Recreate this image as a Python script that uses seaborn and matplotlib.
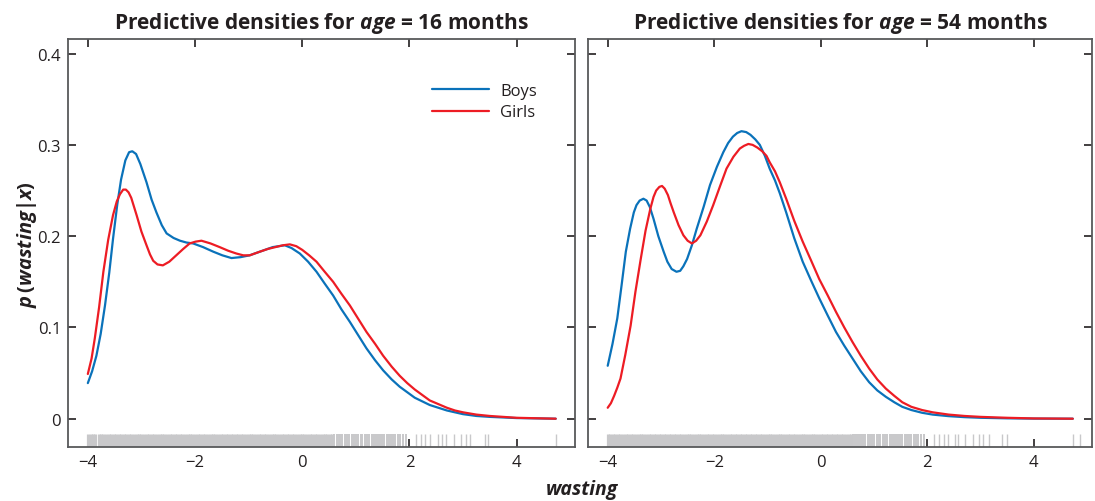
import numpy as np
import matplotlib
matplotlib.use("Agg")
import matplotlib.pyplot as plt
import pandas as pd
import seaborn as sns

# densities: age = 16 months
x16_boys = [-4.0, -3.92, -3.84, -3.76, -3.68, -3.60, -3.53, -3.45, -3.38, -3.30, -3.23, -3.17,
            -3.10, -3.02, -2.905, -2.81, -2.72, -2.62, -2.53, -2.40, -2.28, -2.16, -2.035,
            -1.85, -1.66, -1.49, -1.32, -1.15, -0.98, -0.79, -0.55, -0.44, -0.325, -0.20,
            -0.045, 0.11, 0.267, 0.42, 0.577, 0.73, 0.89, 1.05, 1.2, 1.36, 1.51, 1.67, 1.82,
            1.96, 2.1, 2.24, 2.38, 2.54, 2.7, 2.85, 3.0, 3.25, 3.5, 4.0, 4.73]
y16_boys = [0.039, 0.052, 0.069, 0.093, 0.124, 0.160, 0.197, 0.235, 0.262, 0.283, 0.292, 0.293,
            0.290, 0.279, 0.259, 0.240, 0.226, 0.212, 0.203, 0.198, 0.195, 0.193, 0.192,
            0.188, 0.183, 0.179, 0.176, 0.177, 0.179, 0.183, 0.188, 0.189, 0.190, 0.187,
            0.181, 0.172, 0.161, 0.148, 0.135, 0.120, 0.106, 0.091, 0.077, 0.064, 0.053, 0.043, 0.035,
            0.029, 0.023, 0.019, 0.015, 0.012, 0.009, 0.007, 0.005, 0.003, 0.002, 0.0007, 0.0]
x16_girls = [-4.0, -3.93, -3.87, -3.79, -3.71, -3.62, -3.53, -3.46, -3.40, -3.34, -3.29, -3.24,
             -3.19, -3.09, -3.00, -2.905, -2.84, -2.78, -2.70, -2.60, -2.48, -2.35, -2.22, -2.10,
             -1.99, -1.88, -1.71, -1.54, -1.38, -1.23, -1.10, -0.98, -0.79, -0.64, -0.5, -0.36,
             -0.23, -0.11, 0.0, 0.13, 0.267, 0.42, 0.577, 0.73, 0.89, 1.05, 1.2, 1.36, 1.51,
             1.67, 1.82, 1.96, 2.1, 2.24, 2.38, 2.54, 2.7, 2.85, 3.0, 3.25, 3.5, 4.0, 4.73]
y16_girls = [0.049, 0.066, 0.088, 0.122, 0.161, 0.196, 0.223, 0.238, 0.246, 0.251, 0.251, 0.248,
             0.242, 0.223, 0.205, 0.190, 0.180, 0.173, 0.169, 0.168, 0.172, 0.179, 0.186, 0.192,
             0.194, 0.195, 0.192, 0.188, 0.184, 0.181, 0.179, 0.179, 0.183, 0.186, 0.188, 0.190,
             0.191, 0.189, 0.185, 0.179, 0.172, 0.161, 0.150, 0.137, 0.124, 0.109, 0.095, 0.082, 0.069,
             0.057, 0.047, 0.039, 0.032, 0.026, 0.020, 0.016, 0.012, 0.009, 0.007, 0.0045, 0.003, 0.001, 0.0]

# densities: age = 54 months
x54_boys = [-4.0, -3.91, -3.82, -3.74, -3.66, -3.58, -3.51, -3.46, -3.40, -3.33, -3.27, -3.21,
            -3.14, -3.05, -2.95, -2.88, -2.80, -2.71, -2.64, -2.58, -2.51, -2.42, -2.33, -2.20,
            -2.08, -1.95, -1.83, -1.74, -1.65, -1.57, -1.49, -1.40, -1.32, -1.23, -1.145, -1.05,
            -0.96, -0.86, -0.77, -0.65, -0.50, -0.34, -0.18, -0.03, 0.13, 0.285, 0.44, 0.595,
            0.75, 0.907, 1.06, 1.22, 1.38, 1.53, 1.7, 1.9, 2.1, 2.4, 2.7, 3.0, 3.5, 4.0, 4.73]
y54_boys = [0.058, 0.082, 0.110, 0.146, 0.183, 0.208, 0.226, 0.234, 0.239, 0.241, 0.239, 0.232,
            0.219, 0.200, 0.183, 0.172, 0.164, 0.161, 0.162, 0.167, 0.175, 0.190, 0.208, 0.232,
            0.256, 0.276, 0.292, 0.302, 0.309, 0.313, 0.315, 0.314, 0.311, 0.306, 0.300, 0.288,
            0.274, 0.261, 0.247, 0.226, 0.198, 0.172, 0.151, 0.132, 0.113, 0.095, 0.080, 0.066,
            0.052, 0.040, 0.031, 0.024, 0.018, 0.013, 0.0095, 0.0065, 0.0045, 0.0028, 0.0017,
            0.001, 0.0004, 0.0001, 0.0]
x54_girls = [-4.0, -3.94, -3.88, -3.82, -3.76, -3.67, -3.57, -3.48, -3.38, -3.29, -3.20, -3.14,
             -3.09, -3.03, -2.98, -2.93, -2.87, -2.82, -2.76, -2.67, -2.58, -2.50, -2.42, -2.34,
             -2.26, -2.14, -2.02, -1.89, -1.77, -1.64, -1.52, -1.44, -1.36, -1.28, -1.19, -1.10,
             -1.02, -0.96, -0.86, -0.77, -0.65, -0.50, -0.34, -0.18, -0.03, 0.13, 0.285, 0.44,
             0.595, 0.75, 0.907, 1.06, 1.22, 1.38, 1.53, 1.7, 1.9, 2.1, 2.4, 2.7, 3.0, 3.5, 4.0, 4.73]
y54_girls = [0.012, 0.017, 0.025, 0.034, 0.044, 0.070, 0.102, 0.139, 0.175, 0.206, 0.230, 0.243,
             0.250, 0.254, 0.255, 0.252, 0.245, 0.236, 0.226, 0.212, 0.201, 0.195, 0.192, 0.195,
             0.201, 0.216, 0.234, 0.255, 0.274, 0.287, 0.296, 0.299, 0.301, 0.300, 0.297, 0.293,
             0.288, 0.281, 0.271, 0.259, 0.241, 0.217, 0.194, 0.173, 0.153, 0.135, 0.117, 0.100,
             0.084, 0.069, 0.055, 0.043, 0.033, 0.025, 0.018, 0.013, 0.0095, 0.007, 0.0045,
             0.003, 0.002, 0.001, 0.0003, 0.0]

# observed wasting values (rug)
rug_dense = [-4.00, -3.95, -3.91, -3.86, -3.80, -3.76, -3.71, -3.66, -3.61, -3.57, -3.52, -3.47,
             -3.42, -3.38, -3.33, -3.28, -3.23, -3.19, -3.14, -3.09, -3.04, -3.00, -2.95, -2.90,
             -2.85, -2.81, -2.76, -2.71, -2.66, -2.62, -2.57, -2.52, -2.47, -2.43, -2.38, -2.33,
             -2.28, -2.24, -2.19, -2.14, -2.09, -2.05, -2.00, -1.95, -1.90, -1.86, -1.81, -1.76,
             -1.71, -1.67, -1.62, -1.57, -1.52, -1.48, -1.43, -1.38, -1.33, -1.29, -1.24, -1.19,
             -1.14, -1.10, -1.05, -1.00, -0.95, -0.91, -0.86, -0.81, -0.76, -0.72, -0.67, -0.62,
             -0.57, -0.53, -0.48, -0.43, -0.38, -0.34, -0.29, -0.24, -0.19, -0.15, -0.10, -0.05,
             0.00, 0.04, 0.09, 0.14, 0.19, 0.23, 0.28, 0.33, 0.38, 0.42, 0.47, 0.52, 0.56]
rug_mid = [0.60, 0.64, 0.68, 0.71, 0.75, 0.79, 0.83, 0.88, 0.92, 0.97, 1.00, 1.05, 1.09, 1.12,
           1.17, 1.21, 1.25, 1.30, 1.34, 1.38, 1.41, 1.45, 1.49, 1.53, 1.58, 1.62, 1.66, 1.70,
           1.74, 1.78, 1.83, 1.88, 1.93]
rug_sparse16 = [2.13, 2.22, 2.29, 2.38, 2.54, 2.60, 2.69, 2.83, 2.97, 3.05, 3.14, 3.41, 3.47, 4.73]
rug_sparse54 = [2.12, 2.21, 2.31, 2.39, 2.52, 2.57, 2.70, 2.85, 2.96, 3.05, 3.15, 3.41, 3.49, 4.73, 4.86]

titles = ["16", "54"]
colors = {"Boys": "#0a72ba", "Girls": "#ed1c24"}
xticks = [-4, -2, 0, 2, 4]
xticklabels = ["\u22124", "\u22122", "0", "2", "4"]
yticks = [0, 0.1, 0.2, 0.3, 0.4]
yticklabels = ["0", "0.1", "0.2", "0.3", "0.4"]

sns.set_style("ticks")
plt.rcParams["font.family"] = ["Open Sans", "DejaVu Sans"]
plt.rcParams["mathtext.fontset"] = "custom"
plt.rcParams["mathtext.it"] = "Open Sans:italic:bold"
plt.rcParams["mathtext.rm"] = "Open Sans:bold"
plt.rcParams["mathtext.bf"] = "Open Sans:bold"

def make_df(xb, yb, xg, yg):
    return pd.concat([
        pd.DataFrame({"wasting": xb, "density": yb, "sex": "Boys"}),
        pd.DataFrame({"wasting": xg, "density": yg, "sex": "Girls"}),
    ], ignore_index=True)

dfs = [make_df(x16_boys, y16_boys, x16_girls, y16_girls),
       make_df(x54_boys, y54_boys, x54_girls, y54_girls)]
sparse = [rug_sparse16, rug_sparse54]

fig = plt.figure(figsize=(10.95, 5.02), dpi=100)
ax1 = fig.add_axes([68 / 1095, 1 - 448 / 502, 507 / 1095, 408 / 502])
ax2 = fig.add_axes([588 / 1095, 1 - 448 / 502, 504 / 1095, 408 / 502])
txt = "#231f20"
rug_c = "#c8c8ca"

for i, ax in enumerate([ax1, ax2]):
    sns.rugplot(x=rug_dense, ax=ax, height=0.032, color=rug_c, linewidth=2.3, alpha=1)
    sns.rugplot(x=rug_mid, ax=ax, height=0.032, color=rug_c, linewidth=1.4, alpha=1)
    sns.rugplot(x=sparse[i], ax=ax, height=0.032, color=rug_c, linewidth=1.0, alpha=1)
    sns.lineplot(data=dfs[i], x="wasting", y="density", hue="sex", palette=colors,
                 estimator=None, lw=1.6, ax=ax, legend=(i == 0))
    ax.set_xlim(-4.37, 5.09)
    ax.set_ylim(-0.031, 0.416)
    ax.set_xticks(xticks)
    ax.set_xticklabels(xticklabels)
    ax.set_yticks(yticks)
    if i == 0:
        ax.set_yticklabels(yticklabels)
    else:
        ax.set_yticklabels([])
    ax.set_xlabel("")
    ax.set_ylabel("")
    ax.tick_params(direction="in", top=True, right=True, length=6, width=1.2,
                   color=txt, labelsize=12, labelcolor=txt, pad=5)
    for s in ax.spines.values():
        s.set_color("#58595b")
        s.set_linewidth(1.3)
    ax.set_title("Predictive densities for $age$ = " + titles[i] + " months",
                 fontsize=15, fontweight="bold", color=txt, pad=8)

leg = ax1.legend(frameon=False, loc="upper right", bbox_to_anchor=(0.955, 0.93),
                 handlelength=3.4, handletextpad=0.7, fontsize=12, labelspacing=0.35)
for t in leg.get_texts():
    t.set_color(txt)

fig.text(0.531, 0.024, "wasting", ha="center", va="center", fontsize=14,
         fontweight="bold", fontstyle="italic", color=txt)
fig.text(0.025, 0.512, r"$p\,(wasting|x)$", ha="center", va="center", fontsize=14.5,
         rotation=90, color=txt)

fig.savefig("out.png", dpi=100)
